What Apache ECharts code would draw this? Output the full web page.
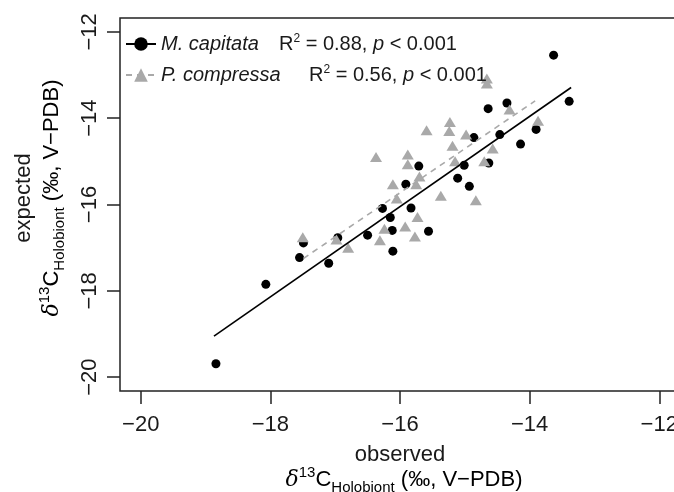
<!DOCTYPE html>
<html>
<head>
<meta charset="utf-8">
<script src="https://cdn.jsdelivr.net/npm/echarts@6/dist/echarts.min.js"></script>
<style>
  html, body { margin: 0; padding: 0; background: #fff; }
  #chart { width: 674px; height: 492px; }
</style>
</head>
<body>
<div id="chart"></div>
<script>
// tick positions on both axes
var xTicks = [-20, -18, -16, -14, -12];
var yTicks = [-20, -18, -16, -14, -12];

// M. capitata (black circles): observed vs expected
var capObserved = [-13.63, -13.39, -14.35, -14.64, -14.86, -14.46, -13.90, -14.14, -14.63, -15.01,
                   -15.71, -15.11, -14.93, -15.91, -15.83, -16.27, -16.15, -16.12, -15.56, -16.50,
                   -16.11, -16.96, -17.49, -17.55, -17.10, -18.07, -18.84];
var capExpected = [-12.54, -13.61, -13.65, -13.78, -14.45, -14.38, -14.26, -14.60, -15.04, -15.09,
                   -15.11, -15.39, -15.58, -15.53, -16.08, -16.09, -16.30, -16.60, -16.62, -16.71,
                   -17.08, -16.77, -16.89, -17.23, -17.36, -17.85, -19.69];

// P. compressa (grey triangles)
var compObserved = [-14.66, -14.66, -14.31, -13.87, -15.23, -15.59, -15.24, -14.98, -15.19, -14.57,
                    -15.88, -15.88, -15.15, -14.70, -15.70, -15.75, -16.11, -15.37, -14.83, -16.05,
                    -16.37, -15.73, -15.92, -16.24, -15.77, -16.31, -16.98, -16.80, -17.50];
var compExpected = [-13.08, -13.20, -13.80, -14.06, -14.09, -14.28, -14.30, -14.38, -14.64, -14.70,
                    -14.84, -15.07, -15.00, -15.00, -15.35, -15.53, -15.53, -15.80, -15.90, -15.86,
                    -14.90, -16.29, -16.51, -16.56, -16.74, -16.83, -16.81, -17.00, -16.76];

// regression lines (end points)
var capFitX = [-18.87, -13.36];
var capFitY = [-19.05, -13.29];
var compFitX = [-17.49, -13.915];
var compFitY = [-17.25, -13.60];

var legendNames = ['M. capitata', 'P. compressa'];
var fitR2 = ['0.88', '0.56'];
var fitP = ['< 0.001', '< 0.001'];

var FONT = '"Liberation Sans", Arial, Helvetica, sans-serif';
var BLACK = '#000000';
var GREY = '#a9a9a9';

function pairs(xs, ys) {
    var out = [];
    for (var i = 0; i < xs.length; i++) {
        out.push([xs[i], ys[i]]);
    }
    return out;
}

function minusSign(v) {
    return String(v).replace('-', '\u2212');
}

var myChart = echarts.init(document.getElementById('chart'));

var titleRich = {
    d: { fontSize: 22, fontStyle: 'italic', lineHeight: 30, fontFamily: 'DejaVu Serif', color: '#1a1a1a' },
    sup: { fontSize: 15, lineHeight: 15, verticalAlign: 'top', fontFamily: FONT, color: '#1a1a1a' },
    c: { fontSize: 22, lineHeight: 30, fontFamily: FONT, color: '#1a1a1a' },
    sub: { fontSize: 15, lineHeight: 15, verticalAlign: 'bottom', fontFamily: FONT, color: '#1a1a1a' }
};
var deltaTitle = '{d|\u03b4}{sup|13}{c|C}{sub|Holobiont}{c| (\u2030, V\u2212PDB)}';

var option = {
    animation: false,
    backgroundColor: '#fff',
    grid: {
        left: 120,
        right: -6,
        top: 18,
        bottom: 101,
        outerBoundsMode: 'none',
        containLabel: false,
        show: true,
        borderColor: '#222',
        borderWidth: 1.5
    },
    xAxis: {
        type: 'value',
        min: -20.32,
        max: -11.68,
        axisLine: { show: false },
        splitLine: { show: false },
        axisTick: {
            show: true,
            inside: false,
            length: 13,
            customValues: xTicks,
            lineStyle: { color: '#222', width: 1.5 }
        },
        axisLabel: {
            customValues: xTicks,
            margin: 23,
            fontSize: 22,
            fontFamily: FONT,
            color: '#1a1a1a',
            formatter: minusSign
        }
    },
    yAxis: {
        type: 'value',
        min: -20.32,
        max: -11.68,
        axisLine: { show: false },
        splitLine: { show: false },
        axisTick: {
            show: true,
            inside: false,
            length: 13,
            customValues: yTicks,
            lineStyle: { color: '#222', width: 1.5 }
        },
        axisLabel: {
            customValues: yTicks,
            rotate: 90,
            margin: 19,
            fontSize: 22,
            fontFamily: FONT,
            color: '#1a1a1a',
            formatter: minusSign
        }
    },
    legend: {
        orient: 'vertical',
        left: 120,
        top: 28,
        itemWidth: 30,
        itemHeight: 17,
        itemGap: 10,
        data: legendNames,
        selectedMode: false,
        formatter: function (name) {
            var i = legendNames.indexOf(name);
            return '{n' + i + '|' + name + '}{t|R}{s|2}{t| = ' + fitR2[i] + ', }{i|p}{t| ' + fitP[i] + '}';
        },
        textStyle: {
            fontFamily: FONT,
            fontSize: 20,
            color: '#1a1a1a',
            rich: {
                n0: { width: 118, fontSize: 20, fontStyle: 'italic', lineHeight: 22, fontFamily: FONT, color: '#1a1a1a' },
                n1: { width: 148, fontSize: 20, fontStyle: 'italic', lineHeight: 22, fontFamily: FONT, color: '#1a1a1a' },
                i: { fontSize: 20, fontStyle: 'italic', lineHeight: 22, fontFamily: FONT, color: '#1a1a1a' },
                t: { fontSize: 20, lineHeight: 22, fontFamily: FONT, color: '#1a1a1a' },
                s: { fontSize: 12, lineHeight: 12, verticalAlign: 'top', fontFamily: FONT, color: '#1a1a1a' }
            }
        }
    },
    graphic: [
        {
            type: 'text', x: 400, y: 455,
            style: { text: 'observed', fontSize: 22, fontFamily: FONT, fill: '#1a1a1a', align: 'center', verticalAlign: 'middle' }
        },
        {
            type: 'text', x: 404, y: 480,
            style: { text: deltaTitle, rich: titleRich, align: 'center', verticalAlign: 'middle' }
        },
        {
            type: 'text', x: 24, y: 198, rotation: Math.PI / 2,
            style: { text: 'expected', fontSize: 22, fontFamily: FONT, fill: '#1a1a1a', align: 'center', verticalAlign: 'middle' }
        },
        {
            type: 'text', x: 52, y: 198, rotation: Math.PI / 2,
            style: { text: deltaTitle, rich: titleRich, align: 'center', verticalAlign: 'middle' }
        }
    ],
    series: [
        {
            name: 'M. capitata points',
            type: 'scatter',
            symbol: 'circle',
            symbolSize: 9,
            itemStyle: { color: BLACK, opacity: 1 },
            silent: true,
            data: pairs(capObserved, capExpected)
        },
        {
            name: 'P. compressa points',
            type: 'scatter',
            symbol: 'triangle',
            symbolSize: [12, 10],
            itemStyle: { color: GREY, opacity: 1 },
            silent: true,
            data: pairs(compObserved, compExpected)
        },
        {
            name: 'M. capitata',
            type: 'line',
            symbol: 'circle',
            showSymbol: false,
            itemStyle: { color: BLACK },
            lineStyle: { color: BLACK, width: 1.6 },
            silent: true,
            data: pairs(capFitX, capFitY)
        },
        {
            name: 'P. compressa',
            type: 'line',
            symbol: 'triangle',
            showSymbol: false,
            itemStyle: { color: GREY },
            lineStyle: { color: GREY, width: 1.6, type: [6, 5] },
            silent: true,
            data: pairs(compFitX, compFitY)
        }
    ]
};

myChart.setOption(option);
</script>
</body>
</html>
